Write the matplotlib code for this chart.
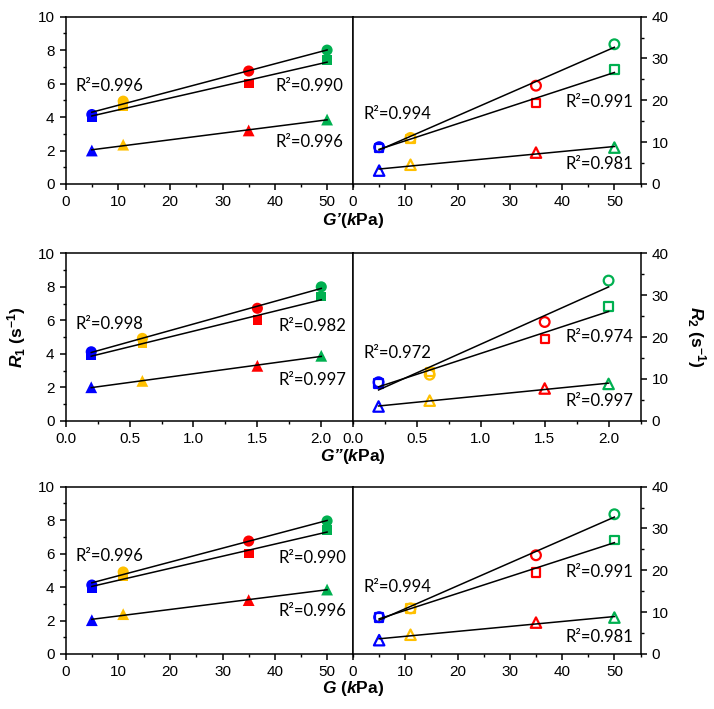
import numpy as np
import matplotlib
matplotlib.use('Agg')
import matplotlib.pyplot as plt
from matplotlib.ticker import MultipleLocator

plt.rcParams['font.family'] = ['Liberation Sans', 'DejaVu Sans']
plt.rcParams['mathtext.fontset'] = 'custom'
plt.rcParams['mathtext.rm'] = 'Liberation Sans'
plt.rcParams['mathtext.bf'] = 'Liberation Sans:bold'
plt.rcParams['mathtext.it'] = 'Liberation Sans:italic'
plt.rcParams['mathtext.bfit'] = 'Liberation Sans:bold:italic'

# point colours (same order as the x values)
point_colors = ['#0000FF', '#FFC000', '#FF0000', '#00B050']

# x values for the three rows
x_gp = [5, 11, 35, 50]          # G' (kPa)
x_gpp = [0.2, 0.6, 1.5, 2.0]    # G'' (kPa)
x_g = [5, 11, 35, 50]           # G (kPa)

# R1 (left panels): circle, square, triangle
r1_gp_circ = [4.15, 4.95, 6.75, 8.0]
r1_gp_sq = [4.0, 4.65, 6.0, 7.4]
r1_gp_tri = [2.0, 2.35, 3.2, 3.85]

r1_gpp_circ = [4.12, 4.92, 6.72, 8.0]
r1_gpp_sq = [3.92, 4.62, 6.02, 7.42]
r1_gpp_tri = [2.0, 2.38, 3.28, 3.88]

r1_g_circ = [4.12, 4.9, 6.75, 7.95]
r1_g_sq = [3.95, 4.65, 6.0, 7.4]
r1_g_tri = [2.02, 2.38, 3.22, 3.85]

# R2 (right panels): circle, square, triangle
r2_gp_circ = [8.8, 11.0, 23.5, 33.4]
r2_gp_sq = [8.6, 10.8, 19.4, 27.4]
r2_gp_tri = [3.2, 4.6, 7.5, 8.7]

r2_gpp_circ = [9.2, 11.0, 23.6, 33.5]
r2_gpp_sq = [8.9, 11.6, 19.6, 27.3]
r2_gpp_tri = [3.4, 4.8, 7.7, 8.8]

r2_g_circ = [8.8, 10.9, 23.6, 33.4]
r2_g_sq = [8.7, 10.9, 19.5, 27.3]
r2_g_tri = [3.3, 4.6, 7.5, 8.7]

# R^2 annotations
r2txt_left = [['R²=0.996', 'R²=0.990', 'R²=0.996'],
              ['R²=0.998', 'R²=0.982', 'R²=0.997'],
              ['R²=0.996', 'R²=0.990', 'R²=0.996']]
r2txt_right = [['R²=0.994', 'R²=0.991', 'R²=0.981'],
               ['R²=0.972', 'R²=0.974', 'R²=0.997'],
               ['R²=0.994', 'R²=0.991', 'R²=0.981']]

xlabels = ["$\\mathbfit{G\u2019}\\mathbf{(}\\mathbfit{k}\\mathbf{Pa)}$",
           "$\\mathbfit{G\u201d}\\mathbf{(}\\mathbfit{k}\\mathbf{Pa)}$",
           "$\\mathbfit{G}\\ \\mathbf{(}\\mathbfit{k}\\mathbf{Pa)}$"]

rows = [
    (x_gp, [r1_gp_circ, r1_gp_sq, r1_gp_tri], [r2_gp_circ, r2_gp_sq, r2_gp_tri], 55, 10, 5),
    (x_gpp, [r1_gpp_circ, r1_gpp_sq, r1_gpp_tri], [r2_gpp_circ, r2_gpp_sq, r2_gpp_tri], 2.25, 0.5, 0.25),
    (x_g, [r1_g_circ, r1_g_sq, r1_g_tri], [r2_g_circ, r2_g_sq, r2_g_tri], 55, 10, 5),
]

# text positions (fraction of axes)
txt_pos_left = [[(0.033, 0.586), (0.73, 0.586), (0.73, 0.253)],
                [(0.035, 0.578), (0.74, 0.564), (0.74, 0.244)],
                [(0.033, 0.586), (0.74, 0.572), (0.74, 0.257)]]
txt_pos_right = [[(0.035, 0.418), (0.738, 0.492), (0.738, 0.118)],
                 [(0.035, 0.405), (0.74, 0.50), (0.74, 0.12)],
                 [(0.035, 0.403), (0.738, 0.492), (0.738, 0.103)]]

fig = plt.figure(figsize=(7.14, 7.09), dpi=100)

row_bottoms = [0.7405, 0.4066, 0.0776]
row_h = 0.236
left_x = 0.092
right_x = 0.4944
panel_w = 0.4027

markers = ['o', 's', '^']
msizes = [8, 7, 8.5]

for i, (xv, r1s, r2s, xmax, xmaj, xmin) in enumerate(rows):
    axl = fig.add_axes([left_x, row_bottoms[i], panel_w, row_h])
    axr = fig.add_axes([right_x, row_bottoms[i], panel_w, row_h])

    for j, ys in enumerate(r1s):
        axl.scatter(xv, ys, c=point_colors, marker=markers[j], s=msizes[j] ** 2,
                    linewidths=0, zorder=2)
        k, b = np.polyfit(xv, ys, 1)
        xx = np.array([xv[0], xv[-1]])
        axl.plot(xx, k * xx + b, color='black', lw=1.1, zorder=3)

    for j, ys in enumerate(r2s):
        axr.scatter(xv, ys, facecolors='none', edgecolors=point_colors,
                    marker=markers[j], s=(msizes[j] - 1) ** 2, linewidths=1.6, zorder=2)
        k, b = np.polyfit(xv, ys, 1)
        xx = np.array([xv[0], xv[-1]])
        axr.plot(xx, k * xx + b, color='black', lw=1.1, zorder=3)

    ticks = np.arange(0, xmax - 1e-9, xmaj)
    if xmaj == 0.5:
        tlabels = ['%.1f' % t for t in ticks]
    else:
        tlabels = ['%d' % t for t in ticks]

    for ax in (axl, axr):
        ax.set_xticks(ticks, tlabels)
        ax.xaxis.set_minor_locator(MultipleLocator(xmin))
        ax.set_xlim(0, xmax)

    axl.set_ylim(0, 10)
    axr.set_ylim(0, 40)
    axl.yaxis.set_major_locator(MultipleLocator(2))
    axl.yaxis.set_minor_locator(MultipleLocator(1))
    axr.yaxis.set_major_locator(MultipleLocator(10))
    axr.yaxis.set_minor_locator(MultipleLocator(5))

    axr.yaxis.tick_right()
    for ax in (axl, axr):
        ax.tick_params(which='major', direction='out', length=4, width=1.1,
                       labelsize=11, pad=4)
        ax.tick_params(which='minor', direction='out', length=2.5, width=1.0)
        for sp in ax.spines.values():
            sp.set_linewidth(1.1)
    axr.tick_params(axis='y', which='both', left=False, right=True)

    for (tx, ty), t in zip(txt_pos_left[i], r2txt_left[i]):
        axl.text(tx, ty, t, transform=axl.transAxes, family=['Lato', 'DejaVu Sans'],
                 fontsize=12, ha='left', va='center')
    for (tx, ty), t in zip(txt_pos_right[i], r2txt_right[i]):
        axr.text(tx, ty, t, transform=axr.transAxes, family=['Lato', 'DejaVu Sans'],
                 fontsize=12, ha='left', va='center')

# x labels, centred on the panel join
label_y = [1 - 220 / 709, 1 - 456 / 709, 1 - 689 / 709]
for i, lab in enumerate(xlabels):
    fig.text(0.4944, label_y[i], lab, fontsize=12.5, ha='center', va='center')

fig.text(17 / 714, 1 - 337 / 709, r"$\mathbfit{R}_\mathbf{1}\ \mathbf{(s^{-1})}$",
         rotation=90, fontsize=12.5, ha='center', va='center')
fig.text(696 / 714, 1 - 337 / 709, r"$\mathbfit{R}_\mathbf{2}\ \mathbf{(s^{-1})}$",
         rotation=270, fontsize=12.5, ha='center', va='center')

fig.savefig('out.png', dpi=100)
